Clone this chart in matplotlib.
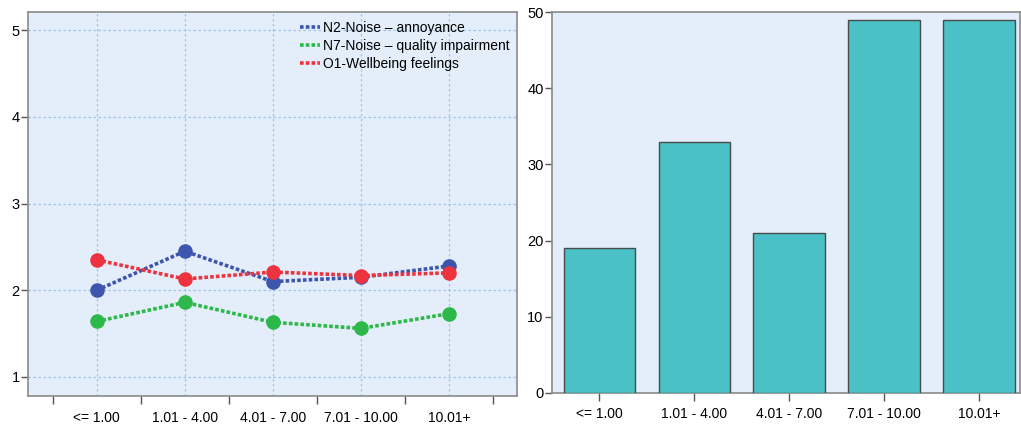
import matplotlib
matplotlib.use("Agg")
import matplotlib.pyplot as plt
import numpy as np

categories = ["<= 1.00", "1.01 - 4.00", "4.01 - 7.00", "7.01 - 10.00", "10.01+"]
n2_annoyance = [2.00, 2.45, 2.10, 2.15, 2.28]
n7_impairment = [1.64, 1.86, 1.63, 1.56, 1.73]
o1_wellbeing = [2.35, 2.13, 2.21, 2.17, 2.20]
counts = [19, 33, 21, 49, 49]

series_labels = ["N2-Noise \u2013 annoyance", "N7-Noise \u2013 quality impairment", "O1-Wellbeing feelings"]
series_colors = ["#3D55AC", "#2DB84A", "#EE3340"]

bg = "#E3EEFA"
frame = "#8A8A8A"
W, H = 1021, 425

plt.rcParams["font.family"] = ["Liberation Sans", "DejaVu Sans"]
fig = plt.figure(figsize=(W / 100, H / 100), dpi=100)

def box(x0, y0, x1, y1):
    return [x0 / W, 1 - y1 / H, (x1 - x0) / W, (y1 - y0) / H]

# Left: mean scores by category
ax1 = fig.add_axes(box(28, 12, 517, 396))
ax1.set_facecolor(bg)
x = np.arange(len(categories))
for vals, lab, col in zip([n2_annoyance, n7_impairment, o1_wellbeing], series_labels, series_colors):
    ax1.plot(x, vals, color=col, lw=2.6, ls=(0, (1, 0.6)), marker="o",
             markersize=10.5, markeredgewidth=0, label=lab, zorder=3)
ax1.set_xlim(-0.78, 4.77)
ax1.set_ylim(0.78, 5.21)
ax1.set_yticks([1, 2, 3, 4, 5])
ax1.set_xticks(x)
ax1.set_xticklabels(categories)
ax1.set_xticks(np.arange(-0.5, 5, 1), minor=True)
ax1.tick_params(axis="x", which="major", length=0, pad=11, labelsize=10)
ax1.tick_params(axis="x", which="minor", length=6, width=1, color="#555555", direction="out")
ax1.tick_params(axis="y", length=5, width=1, color="#555555", labelsize=10.5, pad=1)
ax1.grid(True, which="major", color="#9EC3EA", ls=(0, (2, 2)), lw=0.9, zorder=0)
for s in ax1.spines.values():
    s.set_color(frame)
    s.set_linewidth(1.2)
leg = ax1.legend(loc="upper left", bbox_to_anchor=(0.544, 0.992), frameon=False,
                 fontsize=10, handlelength=1.5, handletextpad=0.2, labelspacing=0.3,
                 borderaxespad=0)
for h in leg.legend_handles:
    h.set_marker("")

# Right: counts per category
ax2 = fig.add_axes(box(552, 12, 1020, 393))
ax2.set_facecolor(bg)
ax2.bar(x, counts, width=0.755, color="#49C1C6", edgecolor="#4A4A4A", linewidth=1.0, zorder=3)
ax2.set_xlim(-0.5, 4.43)
ax2.set_ylim(0, 50)
ax2.set_yticks([0, 10, 20, 30, 40, 50])
ax2.set_xticks(x)
ax2.set_xticklabels(categories)
ax2.tick_params(axis="x", length=6, width=1, color="#555555", pad=4, labelsize=10)
ax2.tick_params(axis="y", length=5, width=1, color="#555555", labelsize=10.5, pad=1)
for s in ax2.spines.values():
    s.set_color(frame)
    s.set_linewidth(1.2)

fig.savefig("out.png", dpi=100, facecolor="white")
